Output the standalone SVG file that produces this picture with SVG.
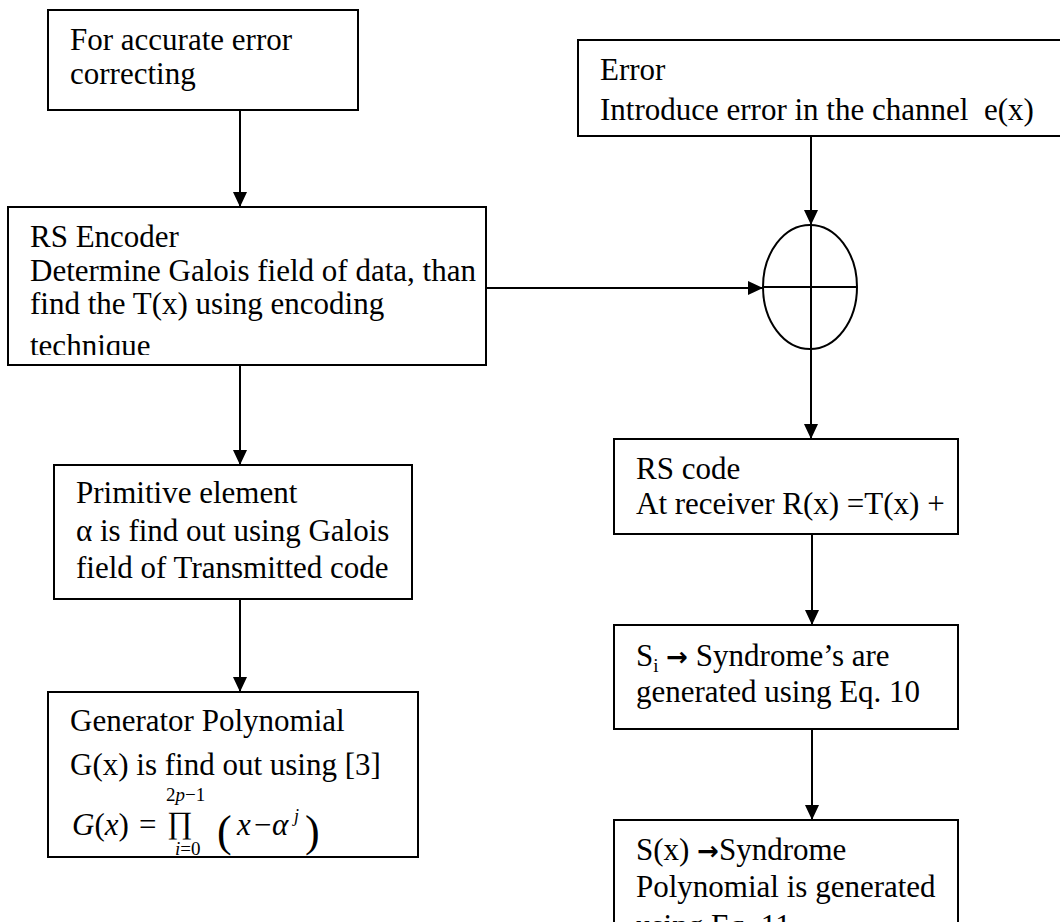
<svg xmlns="http://www.w3.org/2000/svg" width="1060" height="922" viewBox="0 0 1060 922">
<style>
.box{fill:#fff;stroke:#000;stroke-width:2}
.t{font-family:"Liberation Serif","Times New Roman",serif;font-size:31px;fill:#000}
.ln{stroke:#000;stroke-width:2;fill:none}
.it{font-style:italic}
.sm{font-size:19px}
.pr{font-size:31px}
.par{font-size:44px}
.sup{font-size:18px}
.arr{font-family:"DejaVu Sans",sans-serif;font-weight:bold;font-size:26px}
</style>
<defs>
<marker id="ah" markerWidth="15" markerHeight="14" refX="15" refY="7" orient="auto" markerUnits="userSpaceOnUse">
<path d="M0,0 L15,7 L0,14 Z" fill="#000"/>
</marker>
<clipPath id="encClip"><rect x="8" y="207" width="478" height="148"/></clipPath>
</defs>
<rect width="1060" height="922" fill="#fff"/>
<g id="connectors">
<line class="ln" x1="240" y1="110" x2="240" y2="207" marker-end="url(#ah)"/>
<line class="ln" x1="240" y1="365" x2="240" y2="465" marker-end="url(#ah)"/>
<line class="ln" x1="240" y1="599" x2="240" y2="692" marker-end="url(#ah)"/>
<line class="ln" x1="486" y1="288" x2="763" y2="288" marker-end="url(#ah)"/>
<line class="ln" x1="811" y1="136" x2="811" y2="225" marker-end="url(#ah)"/>
<line class="ln" x1="811" y1="349" x2="811" y2="439" marker-end="url(#ah)"/>
<line class="ln" x1="812" y1="534" x2="812" y2="625" marker-end="url(#ah)"/>
<line class="ln" x1="812" y1="729" x2="812" y2="820" marker-end="url(#ah)"/>
</g>
<g id="n1">
<rect class="box" x="48" y="10" width="310" height="100"/>
<text class="t" x="70" y="50">For accurate error</text>
<text class="t" x="70" y="84">correcting</text>
</g>
<g id="n2">
<rect class="box" x="578" y="40" width="490" height="96"/>
<text class="t" x="600" y="80">Error</text>
<text class="t" x="600" y="120" xml:space="preserve">Introduce error in the channel  e(x)</text>
</g>
<g id="n3">
<rect class="box" x="8" y="207" width="478" height="158"/>
<g clip-path="url(#encClip)">
<text class="t" x="30" y="247">RS Encoder</text>
<text class="t" x="30" y="281">Determine Galois field of data, than</text>
<text class="t" x="30" y="314">find the T(x) using encoding</text>
<text class="t" x="30" y="356">technique</text>
</g>
</g>
<g id="sum">
<ellipse class="ln" cx="810" cy="287" rx="47" ry="62" fill="#fff"/>
<line class="ln" x1="763" y1="287" x2="857" y2="287"/>
<line class="ln" x1="811" y1="225" x2="811" y2="349"/>
</g>
<g id="n4">
<rect class="box" x="54" y="465" width="358" height="134"/>
<text class="t" x="76" y="503">Primitive element</text>
<text class="t" x="76" y="541">α is find out using Galois</text>
<text class="t" x="76" y="578">field of Transmitted code</text>
</g>
<g id="n5">
<rect class="box" x="614" y="439" width="344" height="95"/>
<text class="t" x="636" y="479">RS code</text>
<text class="t" x="636" y="514">At receiver R(x) =T(x) +</text>
</g>
<g id="n6">
<rect class="box" x="48" y="692" width="370" height="165"/>
<text class="t" x="70" y="731">Generator Polynomial</text>
<text class="t" x="70" y="775">G(x) is find out using [3]</text>
<text class="t" x="72" y="835"><tspan class="it">G</tspan>(<tspan class="it">x</tspan>)</text>
<text class="t" x="139" y="835">=</text>
<text class="t pr" x="167" y="833">∏</text>
<text class="t sm" x="166" y="801">2<tspan class="it">p</tspan>−1</text>
<text class="t sm" x="175" y="855"><tspan class="it">i</tspan>=0</text>
<text class="t par" x="217" y="846">(</text>
<text class="t it" x="237" y="835">x</text>
<text class="t" x="254" y="835">−</text>
<text class="t it" x="272" y="835">α</text>
<text class="t it sup" x="294" y="822">j</text>
<text class="t par" x="305" y="846">)</text>
</g>
<g id="n7">
<rect class="box" x="614" y="625" width="344" height="104"/>
<text class="t" x="636" y="666">S<tspan class="sm" dy="6">i</tspan><tspan dy="-6"> </tspan><tspan class="arr">→</tspan> Syndrome’s are</text>
<text class="t" x="636" y="702">generated using Eq. 10</text>
</g>
<g id="n8">
<rect class="box" x="614" y="820" width="344" height="120"/>
<text class="t" x="636" y="860">S(x) <tspan class="arr">→</tspan>Syndrome</text>
<text class="t" x="636" y="897">Polynomial is generated</text>
<text class="t" x="636" y="936">using Eq. 11</text>
</g>
</svg>
